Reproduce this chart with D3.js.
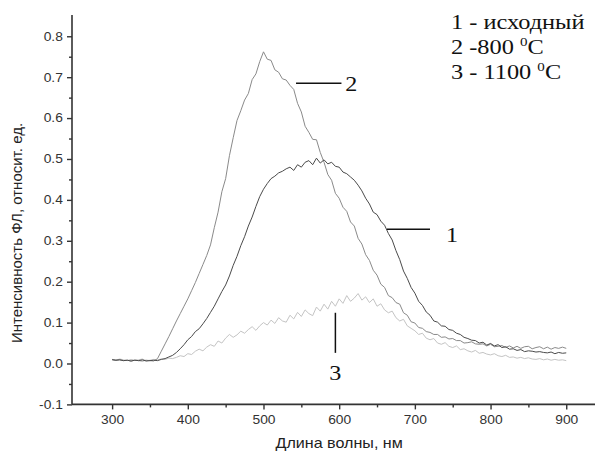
<!DOCTYPE html>
<html>
<head>
<meta charset="utf-8">
<script src="https://cdn.jsdelivr.net/npm/d3@7"></script>
<style>
  body { margin: 0; background: #fff; }
  #chart { width: 595px; height: 462px; }
</style>
</head>
<body>
<div id="chart"></div>
<script>
// wavelengths, nm (5 nm step, 300..900)
var wavelengths = d3.range(300, 901, 5);

// 1 - исходный
var series1 = [
  .009,.008,.009,.007,.008,.006,.008,.007,.009,.006,.007,.008,.007,.010,.012,.016,.020,.027,.036,.046,
  .058,.066,.078,.085,.097,.110,.125,.140,.158,.176,.192,.214,.240,.262,.288,.310,.336,.358,.384,.408,
  .426,.440,.452,.458,.466,.470,.476,.480,.472,.486,.480,.492,.496,.486,.502,.490,.498,.488,.492,.482,
  .480,.468,.464,.456,.448,.436,.422,.404,.390,.370,.364,.348,.338,.318,.302,.276,.254,.226,.208,.186,
  .172,.152,.142,.126,.118,.104,.101,.092,.091,.083,.081,.074,.071,.064,.061,.057,.056,.050,.052,.045,
  .049,.043,.046,.039,.041,.035,.036,.032,.034,.029,.031,.030,.028,.029,.027,.026,.028,.024,.027,.025,
  .026
];
// 2 - 800 °C
var series2 = [
  .010,.008,.009,.007,.008,.006,.008,.007,.006,.008,.007,.006,.012,.030,.048,.066,.085,.104,.122,.140,
  .158,.178,.198,.220,.242,.264,.290,.332,.370,.420,.452,.508,.552,.594,.618,.644,.660,.694,.708,.738,
  .762,.744,.741,.718,.712,.696,.693,.680,.670,.636,.615,.580,.565,.548,.547,.516,.492,.462,.448,.416,
  .404,.382,.372,.346,.336,.306,.292,.266,.252,.228,.216,.194,.186,.166,.161,.149,.145,.124,.118,.102,
  .099,.088,.086,.078,.076,.071,.071,.064,.065,.060,.061,.056,.056,.050,.051,.053,.048,.047,.048,.043,
  .047,.041,.042,.044,.039,.043,.038,.042,.037,.041,.042,.036,.039,.041,.036,.040,.035,.039,.037,.040,
  .037
];
// 3 - 1100 °C
var series3 = [
  .010,.008,.011,.009,.007,.010,.008,.009,.011,.007,.008,.010,.009,.011,.010,.013,.012,.015,.019,.017,
  .024,.022,.030,.035,.031,.040,.046,.042,.055,.050,.062,.071,.064,.070,.079,.074,.083,.090,.081,.092,
  .100,.094,.106,.098,.112,.104,.101,.118,.109,.125,.115,.131,.122,.117,.138,.128,.145,.133,.152,.140,
  .158,.147,.166,.152,.160,.171,.155,.163,.149,.158,.140,.146,.131,.124,.128,.112,.104,.108,.092,.086,
  .080,.071,.074,.062,.058,.061,.050,.047,.051,.042,.039,.043,.034,.036,.031,.028,.032,.025,.027,.023,
  .021,.024,.019,.017,.020,.015,.016,.013,.015,.012,.014,.011,.010,.012,.009,.011,.008,.010,.008,.009,
  .007
];

var xTicks = [300, 400, 500, 600, 700, 800, 900];
var xMinor = [350, 450, 550, 650, 750, 850];
var yTicks = [-0.1, 0.0, 0.1, 0.2, 0.3, 0.4, 0.5, 0.6, 0.7, 0.8];
var yMinor = [-0.05, 0.05, 0.15, 0.25, 0.35, 0.45, 0.55, 0.65, 0.75];

var legendLines = ["1 - исходный", "2 -800 ", "3 - 1100 "];

var width = 595, height = 462;
var svg = d3.select('#chart').append('svg')
  .attr('width', width)
  .attr('height', height);

var x = d3.scaleLinear().domain([247, 938]).range([72, 595]);
var y = d3.scaleLinear().domain([-0.1, 0.852]).range([404.4, 15]);

var sans = "'Liberation Sans', Arial, sans-serif";
var serif = "'Liberation Serif', 'Times New Roman', serif";

// curves
var line = d3.line()
  .x(function (d) { return x(d[0]); })
  .y(function (d) { return y(d[1]); });

var curves = [
  { data: series3, c: '#c4c4c4' },
  { data: series2, c: '#8a8a8a' },
  { data: series1, c: '#4a4a4a' }
];
curves.forEach(function (s) {
  svg.append('path')
    .datum(wavelengths.map(function (w, i) { return [w, s.data[i]]; }))
    .attr('fill', 'none')
    .attr('stroke', s.c)
    .attr('stroke-width', 1)
    .attr('stroke-linejoin', 'round')
    .attr('d', line);
});

// axes
var xAxis = svg.append('g')
  .attr('transform', 'translate(0,' + y(-0.1) + ')')
  .call(d3.axisBottom(x).tickValues(xTicks).tickSize(5).tickPadding(6).tickFormat(d3.format('d')));
var xAxisMinor = svg.append('g')
  .attr('transform', 'translate(0,' + y(-0.1) + ')')
  .call(d3.axisBottom(x).tickValues(xMinor).tickSize(3).tickFormat(''));
xAxisMinor.select('.domain').remove();

var yAxis = svg.append('g')
  .attr('transform', 'translate(' + x(247) + ',0)')
  .call(d3.axisLeft(y).tickValues(yTicks).tickSize(5).tickPadding(5)
    .tickFormat(function (d) { return d3.format('.1f')(d).replace('\u2212', '-'); }));
var yAxisMinor = svg.append('g')
  .attr('transform', 'translate(' + x(247) + ',0)')
  .call(d3.axisLeft(y).tickValues(yMinor).tickSize(3).tickFormat(''));
yAxisMinor.select('.domain').remove();

[xAxis, yAxis].forEach(function (g) {
  g.select('.domain').attr('stroke', '#333').attr('stroke-width', 1.6).attr('d',
    g === xAxis ? 'M72,0H595' : 'M0,' + y(0.852) + 'V' + y(-0.1));
  g.selectAll('text')
    .attr('font-family', sans)
    .attr('font-size', 12)
    .attr('fill', '#333');
});
svg.selectAll('.tick line').attr('stroke', '#333').attr('stroke-width', 1.4);
xAxis.selectAll('text').attr('transform', 'scale(1.15,1)');
yAxis.selectAll('text').attr('dx', '0').attr('x', -8).attr('transform', 'scale(1.15,1)');

// axis titles
svg.append('text')
  .attr('x', x(600) / 1.15)
  .attr('y', 448)
  .attr('transform', 'scale(1.15,1)')
  .attr('text-anchor', 'middle')
  .attr('font-family', sans)
  .attr('font-size', 14)
  .attr('fill', '#222')
  .text('Длина волны, нм');

svg.append('text')
  .attr('transform', 'translate(22,' + 233 + ') rotate(-90)')
  .attr('text-anchor', 'middle')
  .attr('font-family', sans)
  .attr('font-size', 15)
  .attr('fill', '#222')
  .text('Интенсивность  ФЛ, относит. ед.');

// legend block, top right
var legend = svg.append('g')
  .attr('transform', 'translate(451,0) scale(1.16,1)')
  .attr('font-family', serif)
  .attr('font-size', 21)
  .attr('fill', '#111');
legendLines.forEach(function (t, i) {
  var tx = legend.append('text').attr('x', 0).attr('y', 29 + i * 25).text(t);
  if (i > 0) {
    tx.append('tspan').attr('font-size', 13).attr('dy', -8).text('0');
    tx.append('tspan').attr('dy', 8).text('C');
  }
});

// curve labels with leaders
svg.append('line')
  .attr('x1', x(543)).attr('x2', x(603))
  .attr('y1', y(0.685)).attr('y2', y(0.685))
  .attr('stroke', '#111').attr('stroke-width', 1.5);
svg.append('line')
  .attr('x1', x(663)).attr('x2', x(720))
  .attr('y1', y(0.328)).attr('y2', y(0.328))
  .attr('stroke', '#111').attr('stroke-width', 1.5);
svg.append('line')
  .attr('x1', x(595)).attr('x2', x(595))
  .attr('y1', y(0.124)).attr('y2', y(0.026))
  .attr('stroke', '#111').attr('stroke-width', 1.5);

[[x(608), y(0.685) + 8, '2'], [x(741), y(0.328) + 13, '1'], [x(595), y(-0.04), '3']].forEach(function (d, i) {
  svg.append('text')
    .attr('transform', 'translate(' + d[0] + ',' + d[1] + ') scale(1.15,1)')
    .attr('text-anchor', i === 2 ? 'middle' : 'start')
    .attr('font-family', serif)
    .attr('font-size', 21)
    .attr('fill', '#111')
    .text(d[2]);
});
</script>
</body>
</html>
